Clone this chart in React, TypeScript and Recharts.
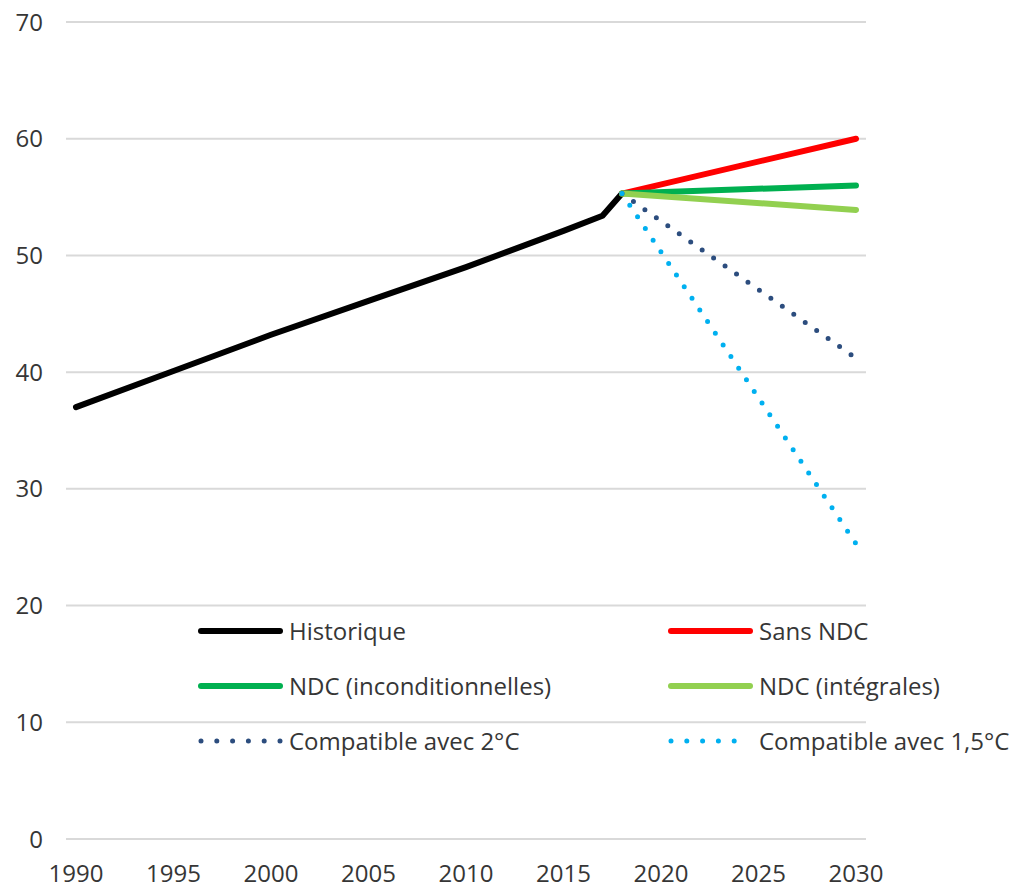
import { LineChart, Line, XAxis, YAxis, CartesianGrid, Legend } from 'recharts';

const years = [1990, 1995, 2000, 2005, 2010, 2015, 2017, 2018, 2030];
const historique = [37.0, 40.1, 43.2, 46.1, 49.0, 52.1, 53.4, 55.3, null];
const sansNdc = [null, null, null, null, null, null, null, 55.3, 60.0];
const ndcInconditionnelles = [null, null, null, null, null, null, null, 55.3, 56.0];
const ndcIntegrales = [null, null, null, null, null, null, null, 55.3, 53.9];
const compatible2 = [null, null, null, null, null, null, null, 55.3, 41.2];
const compatible15 = [null, null, null, null, null, null, null, 55.3, 25.3];

const xTicks = [1990, 1995, 2000, 2005, 2010, 2015, 2020, 2025, 2030];
const yTicks = [0, 10, 20, 30, 40, 50, 60, 70];

const data = years.map((year, i) => ({
  year,
  historique: historique[i],
  sansNdc: sansNdc[i],
  ndcInconditionnelles: ndcInconditionnelles[i],
  ndcIntegrales: ndcIntegrales[i],
  compatible2: compatible2[i],
  compatible15: compatible15[i],
}));

const FONT = '"Open Sans", sans-serif';
const TEXT = '#363636';
const DOTS = '0 14';

const series = [
  { key: 'historique', name: 'Historique', color: '#000000', dotted: false },
  { key: 'sansNdc', name: 'Sans NDC', color: '#ff0000', dotted: false },
  { key: 'ndcInconditionnelles', name: 'NDC (inconditionnelles)', color: '#00b050', dotted: false },
  { key: 'ndcIntegrales', name: 'NDC (intégrales)', color: '#92d050', dotted: false },
  { key: 'compatible2', name: 'Compatible avec 2°C', color: '#2c4d7e', dotted: true },
  { key: 'compatible15', name: 'Compatible avec 1,5°C', color: '#00b0f0', dotted: true },
];

function ChartLegend() {
  return (
    <div
      style={{
        display: 'grid',
        gridTemplateColumns: '470px 360px',
        fontFamily: FONT,
        fontSize: 24,
        color: TEXT,
      }}
    >
      {series.map((s) => (
        <div key={s.key} style={{ display: 'flex', alignItems: 'center', height: 55 }}>
          <svg width={92} height={12}>
            <line
              x1={4}
              y1={6}
              x2={83}
              y2={6}
              stroke={s.color}
              strokeWidth={s.dotted ? 5 : 6}
              strokeLinecap='round'
              strokeDasharray={s.dotted ? '0 15.8' : undefined}
            />
          </svg>
          <span style={{ lineHeight: '24px' }}>{s.name}</span>
        </div>
      ))}
    </div>
  );
}

function App() {
  return (
    <div style={{ position: 'absolute', left: 0, top: 0 }}>
      <LineChart
        width={1026}
        height={888}
        data={data}
        margin={{ top: 22, right: 160, bottom: 1, left: 0 }}
      >
        <CartesianGrid vertical={false} stroke='#d9d9d9' strokeWidth={2} />
        <XAxis
          dataKey='year'
          type='number'
          domain={[1990, 2030]}
          ticks={xTicks}
          padding={{ left: 10, right: 10 }}
          height={48}
          axisLine={false}
          tickLine={false}
          tickMargin={20}
          tick={{ fill: TEXT, fontSize: 24, fontFamily: FONT }}
        />
        <YAxis
          type='number'
          domain={[0, 70]}
          ticks={yTicks}
          width={66}
          axisLine={false}
          tickLine={false}
          tickMargin={17}
          tick={{ fill: TEXT, fontSize: 24, fontFamily: FONT }}
        />
        <Legend
          layout='horizontal'
          verticalAlign='middle'
          align='center'
          content={<ChartLegend />}
          wrapperStyle={{ position: 'absolute', left: 197, top: 603, width: 830, height: 165 }}
        />
        {series.map((s) => (
          <Line
            key={s.key}
            dataKey={s.key}
            name={s.name}
            type='linear'
            stroke={s.color}
            strokeWidth={s.dotted ? 5 : 6}
            strokeLinecap='round'
            strokeLinejoin='round'
            strokeDasharray={s.dotted ? DOTS : undefined}
            dot={false}
            activeDot={false}
            connectNulls
            isAnimationActive={false}
          />
        ))}
      </LineChart>
    </div>
  );
}

export default App;
